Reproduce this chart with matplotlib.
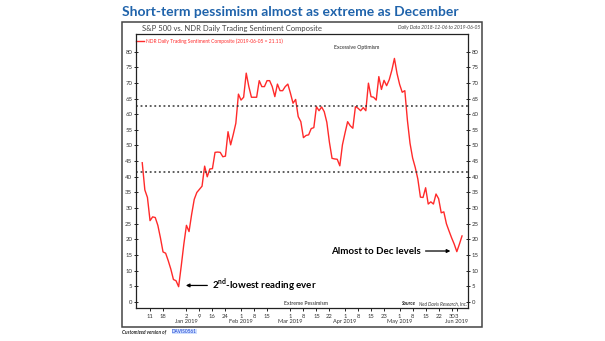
import numpy as np
import pandas as pd
import matplotlib
matplotlib.use('Agg')
import matplotlib.pyplot as plt
import matplotlib.transforms as mtrans
from matplotlib.patches import Rectangle

plt.rcParams['font.family'] = ['Lato', 'DejaVu Sans']
plt.rcParams['mathtext.fontset'] = 'custom'
plt.rcParams['mathtext.bf'] = 'Lato:bold'
plt.rcParams['mathtext.rm'] = 'Lato'

# trading days 2018-12-06 .. 2019-06-05
holidays = ['2018-12-25', '2019-01-01', '2019-01-21', '2019-02-18', '2019-04-19', '2019-05-27']
days = pd.bdate_range('2018-12-06', '2019-06-05')
days = days[~days.isin(pd.to_datetime(holidays))]

# NDR daily trading sentiment composite
sentiment = [
    44.5, 35.8, 33.4, 26.0, 27.2, 27.0, 24.5, 20.5, 16.0, 15.6,
    13.2, 10.5, 7.2, 6.8, 4.9, 11.5, 18.5, 24.5, 22.5, 28.0,
    32.8, 35.0, 36.0, 37.0, 43.4, 40.0, 42.5, 42.6, 47.8, 47.9,
    47.8, 46.4, 46.6, 54.4, 50.2, 53.5, 57.1, 66.4, 64.5, 65.4,
    73.1, 68.8, 65.4, 65.4, 65.4, 70.7, 68.8, 68.8, 70.7, 70.7,
    68.8, 65.6, 69.6, 67.5, 67.5, 68.8, 69.6, 66.7, 63.5, 64.7,
    59.2, 57.6, 52.5, 53.2, 53.4, 55.4, 55.7, 62.4, 61.1, 62.3,
    60.8, 57.4, 51.0, 45.9, 45.7, 45.6, 43.5, 50.2, 54.0, 57.6,
    56.3, 55.5, 62.4, 61.9, 61.1, 62.1, 61.1, 69.9, 65.6, 65.4,
    64.5, 72.0, 67.9, 70.8, 69.1, 71.0, 74.0, 77.8, 73.0, 69.5,
    67.0, 67.5, 58.0, 50.7, 46.0, 43.0, 39.3, 33.5, 33.4, 36.5,
    31.3, 32.0, 31.3, 34.5, 33.0, 28.5, 28.8, 25.0, 22.7, 20.5,
    18.5, 16.1, 18.5, 21.11,
]
upper_band = 62.5
lower_band = 41.5

tick_dates = ['2018-12-11', '2018-12-18', '2019-01-02', '2019-01-09', '2019-01-16', '2019-01-24',
              '2019-02-01', '2019-02-08', '2019-02-15', '2019-03-01', '2019-03-08', '2019-03-15',
              '2019-03-22', '2019-04-01', '2019-04-08', '2019-04-15', '2019-04-23', '2019-05-01',
              '2019-05-08', '2019-05-15', '2019-05-22', '2019-05-30', '2019-06-03']
tick_labels = ['11', '18', '2', '9', '16', '24', '1', '8', '15', '1', '8', '15', '22',
               '1', '8', '15', '23', '1', '8', '15', '22', '30', '3']
month_dates = ['2019-01-02', '2019-02-01', '2019-03-01', '2019-04-01', '2019-05-01', '2019-06-03']
month_labels = ['Jan 2019', 'Feb 2019', 'Mar 2019', 'Apr 2019', 'May 2019', 'Jun 2019']


def pos(d):
    return int(days.get_loc(pd.Timestamp(d)))


x = np.arange(len(days))

fig = plt.figure(figsize=(6.05, 3.41), dpi=100)
W, H = 605, 341
ax = fig.add_axes([136 / W, 1 - 308 / H, (468 - 136) / W, (308 - 34) / H])

ax.plot(x, sentiment, color='#ff2a2a', lw=1.0)
ax.axhline(upper_band, color='#333333', ls=(0, (1.2, 1.8)), lw=1.1)
ax.axhline(lower_band, color='#333333', ls=(0, (1.2, 1.8)), lw=1.1)

ax.set_xlim(-2.4, 125.3)
ax.set_ylim(-1.9, 85.6)
ax.set_yticks(range(0, 81, 5))
ax.tick_params(axis='y', labelsize=4.3, length=2.5, width=0.6, direction='inout',
               labelcolor='#333333', right=True, labelright=True, pad=1.5)
ax.set_xticks([pos(d) for d in tick_dates])
ax.set_xticklabels(tick_labels)
ax.tick_params(axis='x', labelsize=4.2, length=2.5, width=0.6, labelcolor='#333333', pad=2)
for s in ax.spines.values():
    s.set_linewidth(0.9)
    s.set_color('#222222')

trans = mtrans.blended_transform_factory(ax.transData, ax.transAxes)
for d, lab in zip(month_dates, month_labels):
    ax.text(pos(d), -0.040, lab, transform=trans, ha='center', va='top', fontsize=4.1, color='#333333')

# legend / band labels
ax.plot([0.0, 0.025], [0.975, 0.975], transform=ax.transAxes, color='#ff2a2a', lw=1.0, clip_on=False)
ax.text(0.03, 0.975, 'NDR Daily Trading Sentiment Composite (2019-06-05 = 21.11)', transform=ax.transAxes,
        ha='left', va='center', fontsize=3.5, color='#ff2a2a')
ax.text(0.666, 0.95, 'Excessive Optimism', transform=ax.transAxes, ha='center', va='center',
        fontsize=3.7, color='#222222')
ax.text(0.512, 0.008, 'Extreme Pessimism', transform=ax.transAxes, ha='center', va='bottom',
        fontsize=3.7, color='#222222')
ax.text(0.798, 0.008, 'Source', transform=ax.transAxes, ha='left', va='bottom', fontsize=3.5,
        style='italic', weight='bold', color='#222222')
ax.text(0.852, 0.008, 'Ned Davis Research, Inc.', transform=ax.transAxes, ha='left', va='bottom',
        fontsize=3.3, style='italic', color='#333333')

# annotations
ax.annotate('', xy=(15.7, 5.3), xytext=(26.1, 5.3),
            arrowprops=dict(arrowstyle='-|>', color='black', lw=0.9, mutation_scale=5))
ax.text(27.0, 5.3, r'2$^{\mathbf{nd}}$-lowest reading ever', ha='left', va='center',
        fontsize=7.0, weight='bold', color='black')
ax.annotate('', xy=(119.6, 16.3), xytext=(107.9, 16.3),
            arrowprops=dict(arrowstyle='-|>', color='black', lw=0.9, mutation_scale=5))
ax.text(107.2, 16.3, 'Almost to Dec levels', ha='right', va='center',
        fontsize=7.0, weight='bold', color='black')

# outer frame and headings
fig.patches.append(Rectangle((122 / W, 1 - 327 / H), (482 - 122) / W, (327 - 22) / H,
                             transform=fig.transFigure, fill=False, lw=1.1, ec='#444444'))
fig.text(122 / W, 1 - 12 / H, 'Short-term pessimism almost as extreme as December', ha='left',
         va='center', fontsize=10.0, weight='bold', color='#1f63ab')
fig.text(142 / W, 1 - 29 / H, 'S&P 500 vs. NDR Daily Trading Sentiment Composite', ha='left',
         va='center', fontsize=5.5, color='#444444')
fig.text(480 / W, 1 - 27.5 / H, 'Daily Data 2018-12-06 to 2019-06-05', ha='right', va='center',
         fontsize=3.6, style='italic', color='#444444')
fig.text(122 / W, 1 - 331.5 / H, 'Customized version of', ha='left', va='center', fontsize=3.4,
         style='italic', weight='bold', color='#222222')
fig.text(172 / W, 1 - 331.5 / H, 'DAVIS0561', ha='left', va='center', fontsize=3.4,
         color='#1a3fd0', bbox=dict(boxstyle='square,pad=0.1', fc='#cfe0ff', ec='none'))

fig.savefig('out.png', dpi=100)
